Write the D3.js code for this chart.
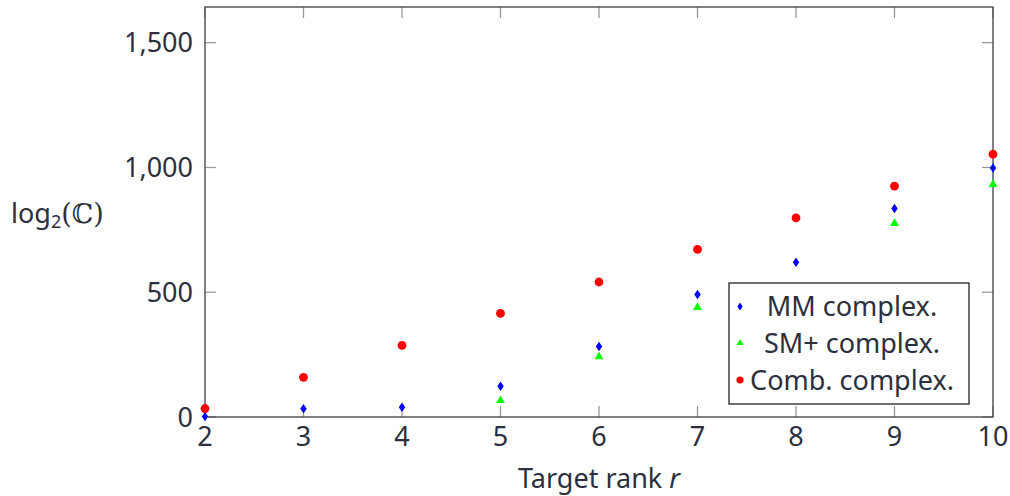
<!DOCTYPE html>
<html>
<head>
<meta charset="utf-8">
<script src="https://cdn.jsdelivr.net/npm/d3@7"></script>
<style>
  body { margin: 0; background: #fff; }
  svg text { font-family: "Noto Sans", "Open Sans", sans-serif; fill: #2c2f3d; }
</style>
</head>
<body>
<div id="container"></div>
<script>
const ranks = [2, 3, 4, 5, 6, 7, 8, 9, 10];
const mmComplex = [2, 33, 39, 123, 283, 491, 620, 836, 998];
const smComplex = [null, null, null, 66, 242, 439, null, 776, 932];
const combComplex = [34, 159, 287, 415, 541, 672, 798, 925, 1053];
const yTicks = [0, 500, 1000, 1500];
const legendLabels = ["MM complex.", "SM+ complex.", "Comb. complex."];

const width = 1010;
const height = 496;
const plot = { left: 205, right: 993, top: 7, bottom: 417 };
const fontSize = 27;

const svg = d3
  .select("#container")
  .append("svg")
  .attr("width", width)
  .attr("height", height);

const x = d3.scaleLinear().domain([2, 10]).range([plot.left, plot.right]);
const y = d3.scaleLinear().domain([0, 1643]).range([plot.bottom, plot.top]);

// inward ticks, all four sides
const tickLen = 11;
const ticks = svg.append("g").attr("stroke", "#9a9a9a").attr("stroke-width", 1.3);
ticks
  .selectAll("line.yl")
  .data(yTicks)
  .enter()
  .append("line")
  .attr("x1", plot.left)
  .attr("x2", plot.left + tickLen)
  .attr("y1", (d) => y(d))
  .attr("y2", (d) => y(d));
ticks
  .selectAll("line.yr")
  .data(yTicks)
  .enter()
  .append("line")
  .attr("x1", plot.right)
  .attr("x2", plot.right - tickLen)
  .attr("y1", (d) => y(d))
  .attr("y2", (d) => y(d));
ticks
  .selectAll("line.xb")
  .data(ranks)
  .enter()
  .append("line")
  .attr("x1", (d) => x(d))
  .attr("x2", (d) => x(d))
  .attr("y1", plot.bottom)
  .attr("y2", plot.bottom - tickLen);
ticks
  .selectAll("line.xt")
  .data(ranks)
  .enter()
  .append("line")
  .attr("x1", (d) => x(d))
  .attr("x2", (d) => x(d))
  .attr("y1", plot.top)
  .attr("y2", plot.top + tickLen);

// frame
svg
  .append("rect")
  .attr("x", plot.left)
  .attr("y", plot.top)
  .attr("width", plot.right - plot.left)
  .attr("height", plot.bottom - plot.top)
  .attr("fill", "none")
  .attr("stroke", "#4a4b55")
  .attr("stroke-width", 1.4);

// tick labels
svg
  .selectAll("text.ylab")
  .data(yTicks)
  .enter()
  .append("text")
  .attr("class", "ylab")
  .attr("x", plot.left - 12)
  .attr("y", (d) => y(d))
  .attr("dy", "0.36em")
  .attr("text-anchor", "end")
  .attr("font-size", fontSize)
  .text((d) => d3.format(",")(d));

svg
  .selectAll("text.xlab")
  .data(ranks)
  .enter()
  .append("text")
  .attr("class", "xlab")
  .attr("x", (d) => x(d))
  .attr("y", 446)
  .attr("text-anchor", "middle")
  .attr("font-size", fontSize)
  .text((d) => d);

// axis titles
const xTitle = svg
  .append("text")
  .attr("x", 599)
  .attr("y", 488)
  .attr("text-anchor", "middle")
  .attr("font-size", fontSize);
xTitle.append("tspan").text("Target rank ");
xTitle.append("tspan").attr("font-style", "italic").text("r");

const yTitle = svg
  .append("text")
  .attr("x", 11)
  .attr("y", 223)
  .attr("font-size", fontSize);
yTitle.append("tspan").text("log");
yTitle.append("tspan").attr("font-size", 18).attr("dy", 5).text("2");
yTitle.append("tspan").attr("dy", -5).attr("font-family", "DejaVu Serif").text("(ℂ)");

// markers
const diamond = d3.symbol().type(d3.symbolDiamond).size(36);
const triangle = d3.symbol().type(d3.symbolTriangle).size(34);

function drawSeries(values, color, kind) {
  const pts = ranks
    .map((r, i) => ({ r: r, v: values[i] }))
    .filter((d) => d.v !== null);
  const g = svg.append("g").attr("fill", color);
  if (kind === "circle") {
    g.selectAll("circle")
      .data(pts)
      .enter()
      .append("circle")
      .attr("cx", (d) => x(d.r))
      .attr("cy", (d) => y(d.v))
      .attr("r", 4.4);
  } else {
    g.selectAll("path")
      .data(pts)
      .enter()
      .append("path")
      .attr("d", kind === "diamond" ? diamond : triangle)
      .attr("transform", (d) =>
        kind === "diamond"
          ? `translate(${x(d.r)},${y(d.v)}) scale(1,0.85)`
          : `translate(${x(d.r)},${y(d.v)})`
      );
  }
}

drawSeries(mmComplex, "#0000ff", "diamond");
drawSeries(smComplex, "#00ff00", "triangle");
drawSeries(combComplex, "#ff0000", "circle");

// legend
const legend = svg.append("g");
legend
  .append("rect")
  .attr("x", 729)
  .attr("y", 283)
  .attr("width", 240)
  .attr("height", 121)
  .attr("fill", "#fff")
  .attr("stroke", "#222")
  .attr("stroke-width", 1.3);

const legendColors = ["#0000ff", "#00ff00", "#ff0000"];
const legendKinds = ["diamond", "triangle", "circle"];
const rowY = [306.5, 343, 380];

legendLabels.forEach((label, i) => {
  const cy = rowY[i];
  if (legendKinds[i] === "circle") {
    legend.append("circle").attr("cx", 740).attr("cy", cy).attr("r", 3.6).attr("fill", legendColors[i]);
  } else if (legendKinds[i] === "diamond") {
    legend
      .append("path")
      .attr("d", diamond)
      .attr("fill", legendColors[i])
      .attr("transform", `translate(740,${cy}) scale(0.8,0.7)`);
  } else {
    legend
      .append("path")
      .attr("d", triangle)
      .attr("fill", legendColors[i])
      .attr("transform", `translate(740,${cy}) scale(0.8)`);
  }
  legend
    .append("text")
    .attr("x", 852)
    .attr("y", cy)
    .attr("dy", "0.36em")
    .attr("text-anchor", "middle")
    .attr("font-size", fontSize)
    .text(label);
});
</script>
</body>
</html>
